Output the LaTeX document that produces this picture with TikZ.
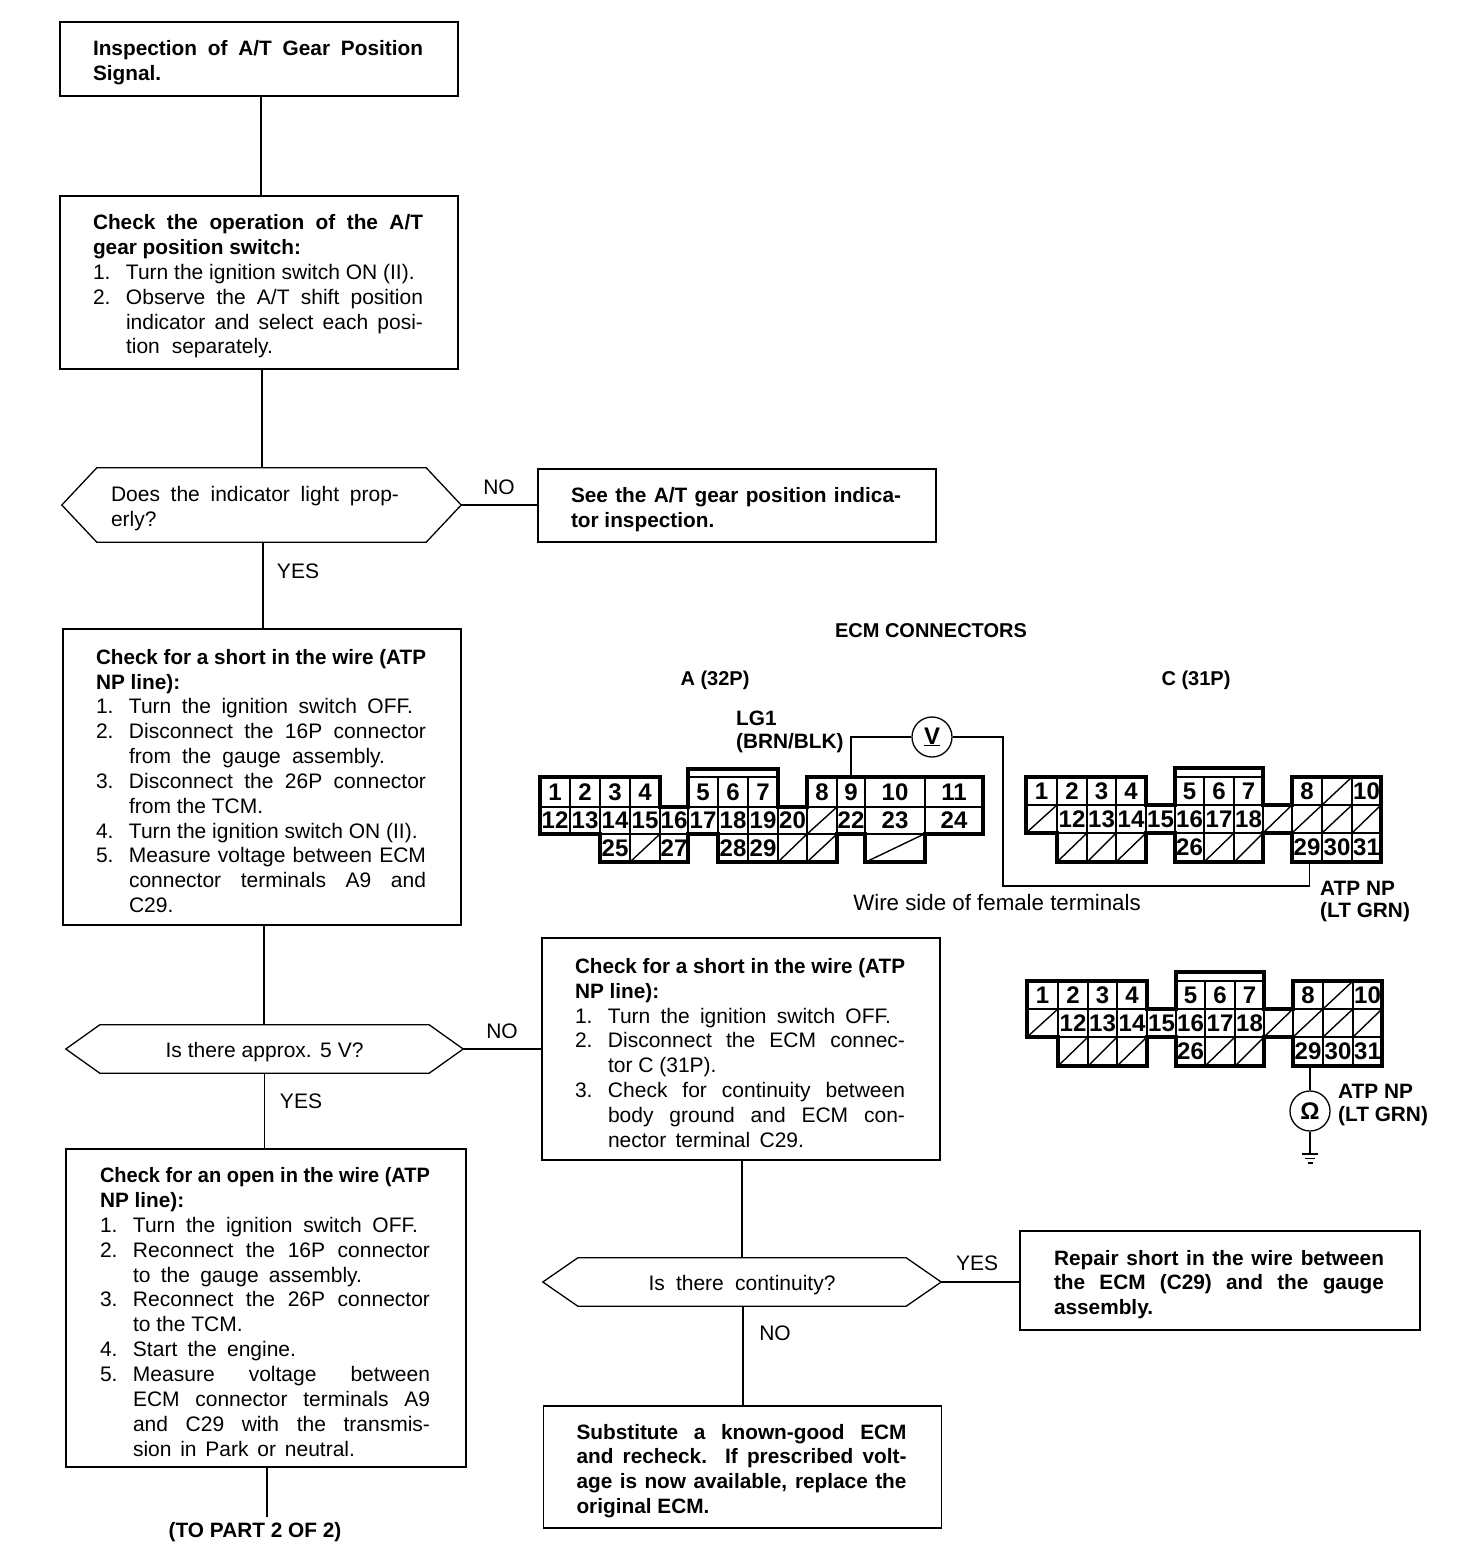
\documentclass[tikz,border=0pt]{standalone}
\usepackage{graphicx}
\usepackage{fontspec}
\setmainfont{Liberation Sans}
\newsavebox{\lbox}
\newcommand{\fitline}[2]{\sbox{\lbox}{#2}\ifdim\wd\lbox>#1\resizebox{#1}{\ht\lbox}{\usebox{\lbox}}\else\makebox[#1][s]{#2}\fi}
\newcommand{\jl}[1]{\fitline{330pt}{#1}}
\newcommand{\jlist}[2]{\makebox[33pt][l]{#1}\fitline{297pt}{#2}}
\newcommand{\rlist}[2]{\makebox[33pt][l]{#1}#2}
\newcommand{\wlist}[3]{\makebox[33pt][l]{#1}\fitline{#2}{#3}}
\newcommand{\ctj}[1]{\hspace*{33pt}\fitline{297pt}{#1}}
\newcommand{\ctw}[2]{\hspace*{33pt}\fitline{#1}{#2}}
\newcommand{\ctr}[1]{\hspace*{33pt}#1}
\newcommand{\hexa}[2]{\draw[wire] (#1.west) -- ([xshift=#2pt]#1.north west) -- ([xshift=-#2pt]#1.north east) -- (#1.east) -- ([xshift=-#2pt]#1.south east) -- ([xshift=#2pt]#1.south west) -- cycle;}
\def\xmark{x}
\newcommand{\cellrow}[3]{\foreach \a/\b/\t in {#3}{%
  \ifx\t\xmark
    \edef\nm{\pfx-s\a-#1}%
    \node[cellbox,minimum width={(\b-\a)*1pt},minimum height={(#2-#1)*1pt}] (\nm) at ({(\a+\b)/2},{(#1+#2)/2}) {};
    \draw[thin line] (\nm.south west) -- (\nm.north east);
  \else
    \edef\nm{\pfx-\t}%
    \node[cellbox,minimum width={(\b-\a)*1pt},minimum height={(#2-#1)*1pt}] (\nm) at ({(\a+\b)/2},{(#1+#2)/2}) {\t};
  \fi}}
\newcommand{\conC}{%
  \cellrow{777}{805}{1026/1057/1,1057/1087/2,1087/1116/3,1116/1146/4,1175/1204/5,1204/1234/6,1234/1263/7,1292/1322/8,1322/1352/x,1352/1381/10}
  \cellrow{805}{833}{1026/1057/x,1057/1087/12,1087/1116/13,1116/1146/14,1146/1175/15,1175/1204/16,1204/1234/17,1234/1263/18,1263/1292/x,1292/1322/x,1322/1352/x,1352/1381/x}
  \cellrow{833}{862}{1057/1087/x,1087/1116/x,1116/1146/x,1175/1204/26,1204/1234/x,1234/1263/x,1292/1322/29,1322/1352/30,1352/1381/31}
  \draw[conedge] (1026,777) -- (1146,777) -- (1146,805) -- (1175,805) -- (1175,768) -- (1263,768) -- (1263,805) -- (1292,805) -- (1292,777) -- (1381,777) -- (1381,862) -- (1292,862) -- (1292,833) -- (1263,833) -- (1263,862) -- (1175,862) -- (1175,833) -- (1146,833) -- (1146,862) -- (1057,862) -- (1057,833) -- (1026,833) -- cycle;
}
\tikzset{
  wire/.style={line width=1.3pt,line join=miter},
  thin line/.style={line width=1.4pt},
  conedge/.style={line width=3.2pt,line join=miter},
  cellbox/.style={draw,line width=1.4pt,inner sep=0pt,font=\fontsize{24}{24}\selectfont\bfseries},
  box/.style={draw,line width=1.4pt,rectangle,inner xsep=33pt,inner ysep=0pt,text width=332pt,align=flush left,font=\fontsize{21}{24.85}\selectfont,execute at begin node={\rule{0pt}{23pt}}},
  boldbox/.style={box,font=\fontsize{20.8}{24.85}\selectfont\bfseries},
  hexnode/.style={inner sep=0pt,align=flush left,font=\fontsize{21}{24.85}\selectfont,execute at begin node={\rule{0pt}{22pt}}},
  lab/.style={inner sep=0pt,font=\fontsize{21}{24}\selectfont},
  blab/.style={inner sep=0pt,align=left,font=\fontsize{20.8}{24.8}\selectfont\bfseries},
  capt/.style={inner sep=0pt,font=\fontsize{20}{24}\selectfont\bfseries},
  meter/.style={draw,circle,line width=1.3pt,minimum size=40pt,inner sep=0pt,font=\fontsize{24}{24}\selectfont\bfseries},
}
\newcommand{\hd}{\fontsize{20.8}{24.85}\selectfont\bfseries}
\begin{document}
\begin{tikzpicture}[x=1pt,y=-1pt]
\useasboundingbox (0,0) rectangle (1472,1568);
\fill[white] (0,0) rectangle (1472,1568);

% flow boxes
\node[boldbox,minimum height=74pt] (b1) at (259,59) {\jl{Inspection of A/T Gear Position}\\Signal.};
\node[box,minimum height=173pt] (b2) at (259,282.5) {{\hd\jl{Check the operation of the A/T}\\gear position switch:}\\
\rlist{1.}{Turn the ignition switch ON (II).}\\
\jlist{2.}{Observe the A/T shift position}\\
\ctj{indicator and select each posi-}\\
\ctw{147pt}{tion separately.}};
\node[hexnode,minimum width=399pt,minimum height=74pt,text width=301pt] (d1) at (261.5,505) {\makebox[288pt][s]{Does the indicator light prop-}\\erly?};
\hexa{d1}{35}
\node[boldbox,minimum height=73pt] (b3) at (737,505.5) {\jl{See the A/T gear position indica-}\\tor inspection.};
\node[box,minimum height=296pt] (b4) at (262,777) {{\hd\jl{Check for a short in the wire (ATP}\\NP line):}\\
\wlist{1.}{284pt}{Turn the ignition switch OFF.}\\
\jlist{2.}{Disconnect the 16P connector}\\
\ctw{256pt}{from the gauge assembly.}\\
\jlist{3.}{Disconnect the 26P connector}\\
\ctr{from the TCM.}\\
\rlist{4.}{Turn the ignition switch ON (II).}\\
\jlist{5.}{Measure voltage between ECM}\\
\ctj{connector terminals A9 and}\\
\ctr{C29.}};
\node[hexnode,minimum width=397pt,minimum height=48pt,align=center] (d2) at (264.5,1049) {\makebox[198pt][s]{Is there approx. 5 V?}};
\hexa{d2}{34}
\node[box,minimum height=222pt] (b5) at (741,1049) {{\hd\jl{Check for a short in the wire (ATP}\\NP line):}\\
\wlist{1.}{283pt}{Turn the ignition switch OFF.}\\
\jlist{2.}{Disconnect the ECM connec-}\\
\ctr{tor C (31P).}\\
\jlist{3.}{Check for continuity between}\\
\ctj{body ground and ECM con-}\\
\ctw{196pt}{nector terminal C29.}};
\node[box,minimum width=400pt,minimum height=318pt] (b6) at (266,1308) {{\hd\jl{Check for an open in the wire (ATP}\\NP line):}\\
\wlist{1.}{285pt}{Turn the ignition switch OFF.}\\
\jlist{2.}{Reconnect the 16P connector}\\
\ctw{229pt}{to the gauge assembly.}\\
\jlist{3.}{Reconnect the 26P connector}\\
\ctr{to the TCM.}\\
\wlist{4.}{163pt}{Start the engine.}\\
\jlist{5.}{Measure voltage between}\\
\ctj{ECM connector terminals A9}\\
\ctj{and C29 with the transmis-}\\
\ctw{222pt}{sion in Park or neutral.}};
\node[hexnode,minimum width=398pt,minimum height=48pt,align=center] (d3) at (742,1282) {\makebox[187pt][s]{Is there continuity?}};
\hexa{d3}{35}
\node[boldbox,minimum width=400pt,minimum height=99pt] (b7) at (1220,1280.5) {\jl{Repair short in the wire between}\\\jl{the ECM (C29) and the gauge}\\assembly.};
\node[boldbox,minimum height=122pt] (b8) at (742.5,1467) {\jl{Substitute a known-good ECM}\\\jl{and recheck. If prescribed volt-}\\\jl{age is now available, replace the}\\original ECM.};
\node[blab] (part2) at (255,1532) {(TO PART 2 OF 2)};

% flow connectors
\coordinate (tail) at (267,1517);
\draw[wire] ([xshift=2pt]b1.south) -- ([xshift=2pt]b1.south |- b2.north);
\draw[wire] ([xshift=3pt]b2.south) -- ([xshift=3pt]b2.south |- d1.north);
\draw[wire] ([xshift=1.5pt]d1.south) -- ([xshift=1.5pt]d1.south |- b4.north);
\draw[wire] ([xshift=2pt]b4.south) -- ([xshift=2pt]b4.south |- d2.north);
\draw[wire] (d2.south) -- (d2.south |- b6.north);
\draw[wire] (tail |- b6.south) -- (tail);
\draw[wire] (d1.east) -- (b3.west |- d1.east);
\draw[wire] (d2.east) -- (b5.west |- d2.east);
\draw[wire] ([xshift=1pt]b5.south) -- ([xshift=1pt]b5.south |- d3.north);
\draw[wire] (d3.east) -- (b7.west |- d3.east);
\draw[wire] ([xshift=1pt]d3.south) -- ([xshift=1pt]d3.south |- b8.north);

% flow labels
\node[lab] (no1) at (499,487) {NO};
\node[lab] (yes1) at (298,571) {YES};
\node[lab] (no2) at (502,1031) {NO};
\node[lab] (yes2) at (301,1101) {YES};
\node[lab] (yes3) at (977,1263) {YES};
\node[lab] (no3) at (775,1333) {NO};

% connector labels
\node[capt] (ecm) at (931,631) {ECM CONNECTORS};
\node[capt] (conA) at (715,680) {A (32P)};
\node[capt] (conCl) at (1196,680) {C (31P)};
\node[blab,anchor=west] (lg1) at (736,718.5) {LG1};
\node[blab,anchor=west] (brn) at (736,743) {(BRN/BLK)};
\node[inner sep=0pt,font=\fontsize{22.3}{24}\selectfont] (wside) at (997,903) {Wire side of female terminals};
\node[blab,anchor=west] (atp1) at (1320,888) {ATP NP};
\node[blab,anchor=west] (lt1) at (1320,912) {(LT GRN)};
\node[blab,anchor=west] (atp2) at (1338,1091) {ATP NP};
\node[blab,anchor=west] (lt2) at (1338,1116) {(LT GRN)};

% connector A
\def\pfx{A}
\cellrow{777}{807}{540/570/1,570/600/2,600/630/3,630/660/4,688/718/5,718/748/6,748/778/7,807/837/8,837/865/9,865/925/10,925/983/11}
\cellrow{807}{834}{540/570/12,570/600/13,600/630/14,630/660/15,660/688/16,688/718/17,718/748/18,748/778/19,778/807/20,807/837/x,837/865/22,865/925/23,925/983/24}
\cellrow{834}{862}{600/630/25,630/660/x,660/688/27,718/748/28,748/778/29,778/807/x,807/837/x,865/925/x}
\draw[conedge] (540,777) -- (660,777) -- (660,807) -- (688,807) -- (688,769) -- (778,769) -- (778,807) -- (807,807) -- (807,777) -- (983,777) -- (983,834) -- (925,834) -- (925,862) -- (865,862) -- (865,834) -- (837,834) -- (837,862) -- (718,862) -- (718,834) -- (688,834) -- (688,862) -- (600,862) -- (600,834) -- (540,834) -- cycle;

% connector C, wire side
\def\pfx{C}
\conC

% connector C, second view
\begin{scope}[shift={(1,204)}]
\def\pfx{D}
\conC
\end{scope}

% meters and wires
\node[meter] (vm) at (932,737) {\underline{V}};
\node[meter] (ohm) at (1310,1111) {Ω};
\coordinate (wc) at (1003,886);
\coordinate (gnd) at (1310,1154);
\draw[wire] (A-9.north) |- (vm.west);
\draw[wire] (vm.east) -| (wc) -| ([xshift=2.5pt]C-29.south);
\draw[wire] (ohm.north) -- (ohm.north |- D-29.south);
\draw[wire] (ohm.south) -- (gnd);
\draw[wire] ([xshift=-8pt]gnd) -- ([xshift=8pt]gnd);
\draw[wire] ([xshift=-5pt,yshift=-4.5pt]gnd) -- ([xshift=5pt,yshift=-4.5pt]gnd);
\draw[wire] ([xshift=-2.5pt,yshift=-9pt]gnd) -- ([xshift=2.5pt,yshift=-9pt]gnd);
\end{tikzpicture}
\end{document}
